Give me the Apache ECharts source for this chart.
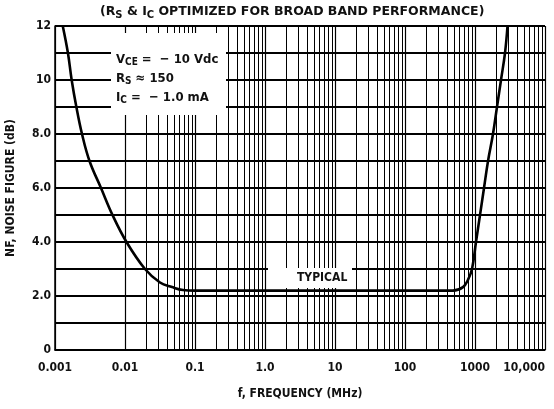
<!DOCTYPE html>
<html>
<head>
<meta charset="utf-8">
<script src="https://cdn.jsdelivr.net/npm/echarts@6/dist/echarts.min.js"></script>
<style>html,body{margin:0;padding:0;background:#fff}#c{width:554px;height:409px}</style>
</head>
<body>
<div id="c"></div>
<script>
// Data
var freqMHz = [0.00129, 0.00153, 0.00173, 0.00202, 0.00243, 0.00311, 0.00454, 0.00663, 0.0105, 0.0193, 0.0316, 0.0469, 0.0674, 0.1, 1, 10, 100, 485, 674, 794, 906, 1033, 1179, 1345, 1535, 1807, 2061, 2352, 2683, 2913];
var noiseFigure = [12, 11, 10, 9, 8, 7, 6, 5, 4, 3, 2.5, 2.33, 2.22, 2.2, 2.2, 2.2, 2.2, 2.2, 2.33, 2.6, 3, 4, 5, 6, 7, 8, 9, 10, 11, 12];
var xTickLabels = ['0.001', '0.01', '0.1', '1.0', '10', '100', '1000', '10,000'];
var yTickLabels = {0: '0', 2: '2.0', 4: '4.0', 6: '6.0', 8: '8.0', 10: '10', 12: '12'};
var decades = [0.001, 0.01, 0.1, 1, 10, 100, 1000];
var minorMultipliers = [2, 3, 4, 5, 6, 7, 8, 9];

var minorLines = [];
decades.forEach(function (d) {
  minorMultipliers.forEach(function (m) {
    minorLines.push({ xAxis: +(d * m).toPrecision(6) });
  });
});

var FONT = "'Liberation Sans Narrow', 'DejaVu Sans Condensed', 'Liberation Sans', Arial, sans-serif";
var chart = echarts.init(document.getElementById('c'), null, { renderer: 'canvas' });
chart.setOption({
  animation: false,
  backgroundColor: '#fff',
  grid: { left: 55, right: 9, top: 26, bottom: 59, containLabel: false, outerBoundsMode: 'none' },
  xAxis: {
    type: 'log', logBase: 10, min: 0.001, max: 10000,
    name: 'f, FREQUENCY (MHz)', nameLocation: 'middle', nameGap: 38,
    nameTextStyle: { fontFamily: FONT, fontSize: 12, fontWeight: 'bold', color: '#111' },
    axisLine: { show: true, lineStyle: { color: '#000', width: 1.5 } },
    axisTick: { show: false },
    axisLabel: {
      margin: 12, fontFamily: FONT, fontSize: 12, fontWeight: 'bold', color: '#111',
      alignMaxLabel: 'right',
      formatter: function (v) { var i = Math.round(Math.log10(v)) + 3; return xTickLabels[i] || ''; }
    },
    splitLine: { show: true, lineStyle: { color: '#000', width: 1.2 } }
  },
  yAxis: {
    type: 'value', min: 0, max: 12, interval: 1,
    name: 'NF, NOISE FIGURE (dB)', nameLocation: 'middle', nameGap: 38, nameRotate: 90,
    nameTextStyle: { fontFamily: FONT, fontSize: 12, fontWeight: 'bold', color: '#111' },
    axisLine: { show: true, lineStyle: { color: '#000', width: 1.5 } },
    axisTick: { show: false },
    axisLabel: {
      margin: 4, fontFamily: FONT, fontSize: 12, fontWeight: 'bold', color: '#111',
      formatter: function (v) { return yTickLabels[v] !== undefined ? yTickLabels[v] : ''; }
    },
    splitLine: { show: true, lineStyle: { color: '#000', width: 2 } }
  },
  series: [
    {
      type: 'line', data: [], silent: true,
      markLine: {
        silent: true, symbol: ['none', 'none'], animation: false,
        label: { show: false },
        lineStyle: { color: '#000', width: 1, type: 'solid' },
        data: minorLines
      }
    },
    {
      type: 'line',
      data: freqMHz.map(function (f, i) { return [f, noiseFigure[i]]; }),
      showSymbol: false, smooth: 0.4,
      lineStyle: { color: '#000', width: 2.6 },
      z: 5
    }
  ],
  graphic: [
    { type: 'rect', left: 111, top: 33, shape: { width: 115, height: 82 }, style: { fill: '#fff' }, z: 10 },
    { type: 'rect', left: 268, top: 268, shape: { width: 84, height: 20 }, style: { fill: '#fff' }, z: 10 },
    {
      type: 'text', left: 297, top: 272, z: 11,
      style: { text: 'TYPICAL', font: "bold 12px " + FONT, fill: '#111' }
    },
    {
      type: 'text', left: 116, top: 50, z: 11,
      style: {
        text: '{n|V}{s|CE}{n| =  − 10 Vdc}\n{n|R}{s|S}{n| ≈ 150}\n{n|I}{s|C}{n| =  − 1.0 mA}',
        lineHeight: 19,
        rich: {
          n: { fontFamily: FONT, fontSize: 13, fontWeight: 'bold', fill: '#111', lineHeight: 19 },
          s: { fontFamily: FONT, fontSize: 10, fontWeight: 'bold', fill: '#111', padding: [6, 0, 0, 0], lineHeight: 19 }
        }
      }
    },
    {
      type: 'text', left: 100, top: 5, z: 11,
      style: {
        text: '{n|(R}{s|S}{n| & I}{s|C}{n| OPTIMIZED FOR BROAD BAND PERFORMANCE)}',
        rich: {
          n: { fontFamily: "'DejaVu Sans', Arial, sans-serif", fontSize: 12.5, fontWeight: 'bold', fill: '#111' },
          s: { fontFamily: "'DejaVu Sans', Arial, sans-serif", fontSize: 10, fontWeight: 'bold', fill: '#111', padding: [7, 0, 0, 0] }
        }
      }
    }
  ]
});
</script>
</body>
</html>
